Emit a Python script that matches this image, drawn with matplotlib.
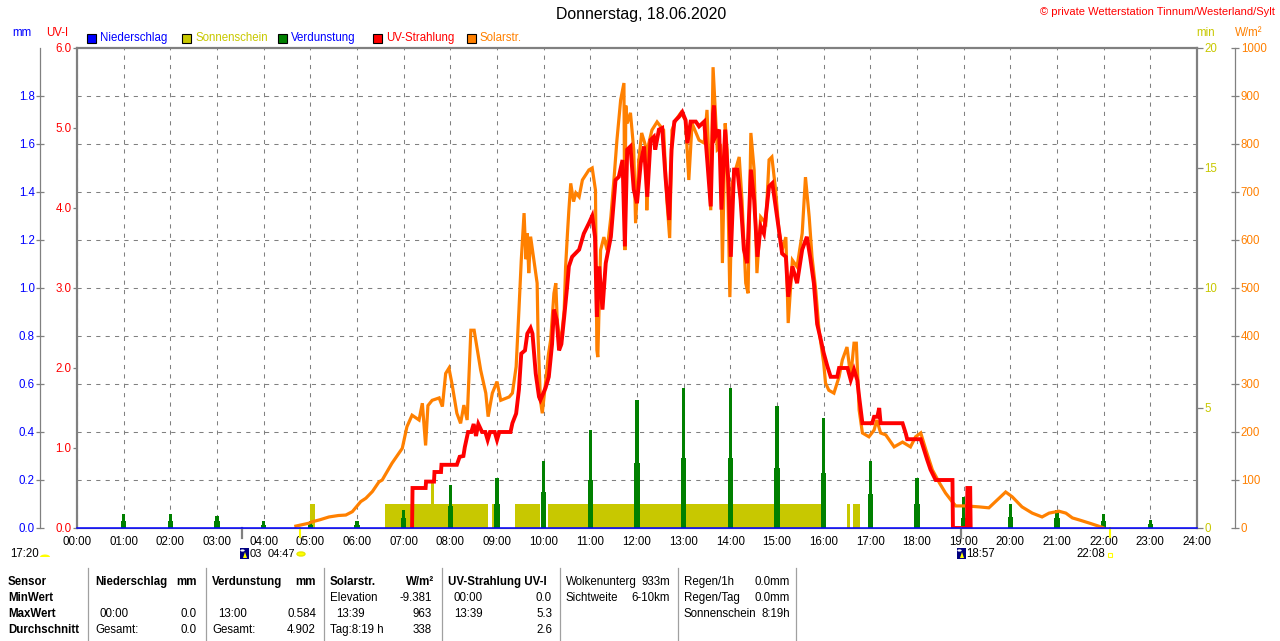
import numpy as np
import matplotlib
matplotlib.use("Agg")
import matplotlib.pyplot as plt
from matplotlib.patches import Rectangle, Circle, Wedge, Polygon
import matplotlib.transforms as mtransforms

# ---------------- data ----------------
hour_ticks = [0, 1, 2, 3, 4, 5, 6, 7, 8, 9, 10, 11, 12, 13, 14, 15, 16, 17, 18, 19, 20, 21, 22, 23, 24]
hour_labels = ["00:00", "01:00", "02:00", "03:00", "04:00", "05:00", "06:00", "07:00", "08:00",
               "09:00", "10:00", "11:00", "12:00", "13:00", "14:00", "15:00", "16:00", "17:00",
               "18:00", "19:00", "20:00", "21:00", "22:00", "23:00", "24:00"]

mm_ticks = [0.0, 0.2, 0.4, 0.6, 0.8, 1.0, 1.2, 1.4, 1.6, 1.8]
uv_ticks = [0, 1, 2, 3, 4, 5, 6]
min_ticks = [0, 5, 10, 15, 20]
sol_ticks = [0, 100, 200, 300, 400, 500, 600, 700, 800, 900, 1000]

# Solar radiation (W/m^2)
solar_hours = [4.69, 4.97, 5.04, 5.2, 5.4, 5.6, 5.76, 5.9, 6.08, 6.19, 6.33, 6.47, 6.54, 6.75, 6.97,
               7.07, 7.18, 7.33, 7.4, 7.47, 7.52, 7.61, 7.76, 7.83, 7.9, 7.97, 8.04, 8.14, 8.22,
               8.29, 8.36, 8.44, 8.51, 8.58, 8.65, 8.76, 8.81, 8.9, 9.0, 9.08, 9.26, 9.33, 9.41,
               9.47, 9.52, 9.58, 9.62, 9.65, 9.68, 9.72, 9.79, 9.86, 9.88, 9.93, 9.97, 10.04,
               10.1, 10.15, 10.22, 10.26, 10.29, 10.36, 10.44, 10.47, 10.51, 10.54, 10.58, 10.64,
               10.69, 10.76, 10.83, 10.97, 11.04, 11.11, 11.14, 11.16, 11.22, 11.29, 11.36, 11.44,
               11.51, 11.57, 11.65, 11.72, 11.74, 11.76, 11.79, 11.86, 11.93, 11.97, 12.04, 12.1,
               12.19, 12.21, 12.25, 12.32, 12.43, 12.51, 12.57, 12.64, 12.7, 12.75, 12.83, 12.94,
               13.04, 13.11, 13.18, 13.33, 13.44, 13.5, 13.58, 13.63, 13.67, 13.72, 13.79, 13.83,
               13.89, 13.93, 13.99, 14.04, 14.11, 14.19, 14.25, 14.33, 14.38, 14.44, 14.51, 14.57,
               14.65, 14.76, 14.83, 14.89, 14.97, 15.04, 15.11, 15.19, 15.24, 15.33, 15.43, 15.54,
               15.61, 15.69, 15.75, 15.83, 15.9, 16.0, 16.04, 16.11, 16.22, 16.33, 16.4, 16.5,
               16.58, 16.65, 16.7, 16.76, 16.83, 16.97, 17.08, 17.14, 17.22, 17.33, 17.51, 17.69,
               17.86, 17.97, 18.08, 18.19, 18.33, 18.48, 18.61, 18.76, 18.83, 19.04, 19.33, 19.54,
               19.76, 19.9, 20.04, 20.25, 20.47, 20.68, 20.83, 21.04, 21.19, 21.33, 21.47, 21.7,
               21.95, 22.0]
solar_wm2 = [4, 10, 13, 17, 23, 26, 27, 34, 55, 62, 76, 96, 100, 135, 166,
             211, 235, 225, 260, 172, 255, 266, 271, 253, 322, 333, 298, 239, 218,
             256, 225, 412, 412, 371, 329, 281, 232, 281, 305, 266, 273, 281, 336,
             454, 558, 656, 560, 614, 531, 607, 558, 510, 400, 266, 239, 302,
             360, 392, 489, 510, 433, 377, 454, 544, 614, 662, 718, 680,
             698, 690, 725, 746, 750, 704, 371, 356, 579, 606, 579, 648,
             731, 808, 892, 927, 579, 880, 843, 865, 788, 635, 767, 823,
             794, 662, 800, 829, 846, 836, 829, 683, 604, 829, 850, 865,
             850, 725, 843, 808, 802, 871, 662, 960, 885, 788, 794, 552,
             843, 788, 481, 718, 746, 773, 683, 510, 489, 823, 746, 531,
             648, 635, 767, 773, 704, 621, 579, 606, 427, 558, 544, 614,
             731, 648, 565, 496, 412, 344, 302, 287, 281, 315, 350, 377,
             315, 385, 385, 246, 198, 190, 204, 225, 198, 194, 169, 179,
             169, 190, 198, 163, 121, 94, 73, 54, 46, 46, 44, 42,
             62, 75, 65, 44, 31, 23, 31, 35, 31, 21, 17, 10,
             2, 0]

# UV index
uv_hours = [7.18, 7.19, 7.47, 7.48, 7.65, 7.66, 7.8, 7.81, 8.14, 8.2, 8.28, 8.31, 8.38, 8.45, 8.5,
            8.55, 8.6, 8.68, 8.75, 8.8, 8.85, 8.95, 9.0, 9.05, 9.29, 9.33, 9.41, 9.47, 9.52, 9.6,
            9.65, 9.72, 9.76, 9.83, 9.9, 9.93, 10.04, 10.11, 10.18, 10.22, 10.28, 10.33, 10.38,
            10.44, 10.5, 10.54, 10.61, 10.76, 10.86, 10.97, 11.04, 11.1, 11.14, 11.19, 11.26,
            11.33, 11.44, 11.54, 11.61, 11.69, 11.74, 11.79, 11.86, 11.93, 12.0, 12.08, 12.15,
            12.22, 12.29, 12.36, 12.39, 12.47, 12.54, 12.61, 12.69, 12.74, 12.8, 12.9, 12.97,
            13.04, 13.08, 13.15, 13.26, 13.33, 13.44, 13.51, 13.58, 13.63, 13.65, 13.68, 13.76,
            13.81, 13.89, 13.96, 14.01, 14.08, 14.15, 14.22, 14.29, 14.36, 14.44, 14.51, 14.58,
            14.65, 14.72, 14.83, 14.9, 14.97, 15.04, 15.11, 15.19, 15.24, 15.33, 15.43, 15.54,
            15.64, 15.71, 15.79, 15.86, 15.94, 16.0, 16.08, 16.15, 16.29, 16.33, 16.51, 16.58,
            16.65, 16.72, 16.76, 16.83, 17.04, 17.08, 17.15, 17.19, 17.22, 17.69, 17.76, 17.79,
            18.08, 18.15, 18.22, 18.29, 18.4, 18.76, 18.77, 19.07, 19.08, 19.14, 19.15]
uv_index = [0.0, 0.5, 0.5, 0.58, 0.58, 0.7, 0.7, 0.79, 0.79, 0.89, 0.9, 1.01, 1.2, 1.2, 1.3,
            1.15, 1.3, 1.2, 1.2, 1.1, 1.2, 1.2, 1.1, 1.2, 1.2, 1.31, 1.43, 1.73, 2.18, 2.22,
            2.43, 2.5, 2.43, 1.93, 1.64, 1.6, 1.75, 1.89, 2.3, 2.73, 2.6, 2.22, 2.3,
            2.64, 3.0, 3.27, 3.39, 3.48, 3.68, 3.81, 3.9, 3.64, 2.64, 3.27, 2.73,
            3.31, 3.64, 4.35, 4.39, 4.6, 3.52, 4.73, 4.77, 4.23, 4.06, 4.56, 4.77,
            4.14, 4.85, 4.89, 4.73, 4.98, 5.0, 4.39, 3.85, 4.73, 5.08, 5.14, 5.2,
            5.1, 4.81, 5.08, 5.08, 5.02, 5.08, 4.56, 4.02, 5.18, 5.28, 4.89, 4.98,
            3.98, 4.98, 4.31, 3.39, 4.48, 4.48, 4.1, 3.48, 3.31, 4.48, 4.1, 3.39,
            3.77, 3.68, 4.27, 4.31, 4.02, 3.73, 3.43, 3.39, 2.89, 3.27, 3.06, 3.48,
            3.64, 3.39, 3.06, 2.55, 2.35, 2.19, 2.02, 1.89, 1.89, 2.0, 2.0, 1.85,
            1.98, 1.85, 1.64, 1.31, 1.31, 1.39, 1.39, 1.5, 1.31, 1.31, 1.18, 1.11,
            1.11, 0.98, 0.85, 0.73, 0.6, 0.6, 0.0, 0.0, 0.5, 0.5, 0.0]

# Evaporation (mm) per hour: main and lower part
evap_hours = [1, 2, 3, 4, 5, 6, 7, 8, 9, 10, 11, 12, 13, 14, 15, 16, 17, 18, 19, 20, 21, 22, 23]
evap_main = [0.058, 0.058, 0.05, 0.03, 0.03, 0.03, 0.075, 0.18, 0.21, 0.28, 0.41, 0.533, 0.584,
             0.584, 0.51, 0.46, 0.28, 0.21, 0.13, 0.10, 0.075, 0.058, 0.033]
evap_low = [0.03, 0.03, 0.03, 0.013, 0.013, 0.013, 0.04, 0.09, 0.10, 0.15, 0.20, 0.27, 0.29,
            0.29, 0.25, 0.23, 0.14, 0.10, 0.04, 0.046, 0.04, 0.03, 0.015]

# Sunshine (min)
sun_start = [4.99, 6.61, 7.58, 8.89, 9.39, 10.10, 16.49, 16.63]
sun_end = [5.11, 8.81, 7.66, 8.97, 9.92, 15.95, 16.56, 16.77]
sun_min = [1, 1, 2, 1, 1, 1, 1, 1]

# Rain (mm)
rain_hours = [0, 24]
rain_mm = [0.0, 0.0]

# Moon / sun events (hours)
moon_marks = [3.53, 18.95]
sun_marks = [4.78, 22.13]

# ---------------- styling ----------------
plt.rcParams['font.family'] = ['Liberation Sans', 'DejaVu Sans']
C_BLUE = '#0000FF'
C_YEL = '#C8C800'
C_GREEN = '#008000'
C_RED = '#FF0000'
C_ORANGE = '#FF8000'
C_GRAY = '#808080'
FS = 8.3

W, H = 1280, 641
fig = plt.figure(figsize=(12.8, 6.41), dpi=100)
fig.patch.set_facecolor('white')


def fx(x):
    return x / W


def fy(y):
    return 1 - y / H


L, R, T, B = 77, 1197, 48, 528
rect = [fx(L), fy(B), (R - L) / W, (B - T) / H]

axg = fig.add_axes(rect, zorder=0)
ax_min = fig.add_axes(rect, zorder=1)
ax_ev = fig.add_axes(rect, zorder=2)
ax_sol = fig.add_axes(rect, zorder=3)
ax_uv = fig.add_axes(rect, zorder=4)

for a in (axg, ax_min, ax_ev, ax_sol, ax_uv):
    a.set_xlim(0, 24)
    for s in a.spines.values():
        s.set_visible(False)
    a.tick_params(left=False, right=False, top=False, bottom=False,
                  labelleft=False, labelright=False, labelbottom=False, labeltop=False)
    if a is not axg:
        a.patch.set_visible(False)

# grid + mm axis + hour labels
axg.set_ylim(0, 2.0)
axg.set_yticks(mm_ticks)
axg.set_yticklabels([f"{v:.1f}" for v in mm_ticks])
axg.set_xticks(hour_ticks)
axg.set_xticklabels(hour_labels)
axg.spines['left'].set_visible(True)
axg.spines['left'].set_position(('outward', 26.3))
axg.spines['left'].set_color(C_GRAY)
axg.spines['left'].set_linewidth(0.9)
axg.tick_params(axis='y', left=True, labelleft=True, direction='inout', length=5.8,
                width=0.9, color=C_GRAY, labelcolor=C_BLUE, labelsize=FS, pad=1.2)
axg.tick_params(axis='x', bottom=True, labelbottom=True, length=0, pad=6, labelsize=FS,
                labelcolor='black')
axg.grid(True, color=C_GRAY, linewidth=0.75, linestyle=(0, (4, 5)))

# sunshine bars
ax_min.set_ylim(0, 20)
ax_min.bar(sun_start, sun_min, width=np.array(sun_end) - np.array(sun_start), align='edge',
           color=C_YEL, edgecolor='none')
ax_min.set_yticks(min_ticks)
ax_min.set_yticklabels([str(v) for v in min_ticks])
ax_min.spines['right'].set_visible(True)
ax_min.spines['right'].set_color(C_GRAY)
ax_min.spines['right'].set_linewidth(1.6)
ax_min.tick_params(axis='y', right=True, labelright=True, direction='out', length=4.3,
                   width=0.9, color=C_GRAY, labelcolor=C_YEL, labelsize=FS, pad=1.0)

# evaporation bars
ax_ev.set_ylim(0, 2.0)
ax_ev.bar(evap_hours, evap_low, width=0.11, color=C_GREEN, edgecolor='none')
ax_ev.bar(evap_hours, evap_main, width=0.07, color=C_GREEN, edgecolor='none')

# solar
ax_sol.set_ylim(0, 1000)
ax_sol.plot(solar_hours, solar_wm2, color=C_ORANGE, linewidth=2.3, solid_joinstyle='miter')
ax_sol.set_yticks(sol_ticks)
ax_sol.set_yticklabels([str(v) for v in sol_ticks])
ax_sol.spines['right'].set_visible(True)
ax_sol.spines['right'].set_position(('outward', 27.4))
ax_sol.spines['right'].set_color(C_GRAY)
ax_sol.spines['right'].set_linewidth(0.9)
ax_sol.tick_params(axis='y', right=True, labelright=True, direction='inout', length=6.2,
                   width=0.9, color=C_GRAY, labelcolor=C_ORANGE, labelsize=FS, pad=1.0)

# UV + frame + rain baseline
ax_uv.set_ylim(0, 6)
ax_uv.plot(uv_hours, uv_index, color=C_RED, linewidth=2.8, solid_joinstyle='miter')
ax_uv.plot(rain_hours, [v * 3 for v in rain_mm], color=C_BLUE, linewidth=1.1, zorder=10,
           clip_on=False)
ax_uv.set_yticks(uv_ticks)
ax_uv.set_yticklabels([f"{v:.1f}" for v in uv_ticks])
for side in ('left', 'top'):
    ax_uv.spines[side].set_visible(True)
    ax_uv.spines[side].set_color(C_GRAY)
    ax_uv.spines[side].set_linewidth(1.6)
ax_uv.spines['bottom'].set_visible(True)
ax_uv.spines['bottom'].set_color(C_GRAY)
ax_uv.spines['bottom'].set_linewidth(0.9)
ax_uv.tick_params(axis='y', left=True, labelleft=True, direction='out', length=2.9,
                  width=0.9, color=C_GRAY, labelcolor=C_RED, labelsize=FS, pad=1.0)

# event marks below axis
trans = mtransforms.blended_transform_factory(ax_uv.transData, ax_uv.transAxes)
for h in moon_marks:
    ax_uv.plot([h, h], [0, -10 / 480], color=C_GRAY, linewidth=1.6, transform=trans,
               clip_on=False)
for h in sun_marks:
    ax_uv.plot([h, h], [0, -9 / 480], color='#FFFF00', linewidth=1.5, transform=trans,
               clip_on=False)

# ---------------- texts ----------------
fig.text(fx(641), fy(15), "Donnerstag, 18.06.2020", ha='center', va='center', fontsize=11.4,
         color='black')
fig.text(fx(1275), fy(12), "\u00a9 private Wetterstation Tinnum/Westerland/Sylt", ha='right',
         va='center', fontsize=8, color=C_RED)

fig.text(fx(22), fy(33), "mm", ha='center', va='center', fontsize=FS, color=C_BLUE)
fig.text(fx(57), fy(33), "UV-I", ha='center', va='center', fontsize=FS, color=C_RED)
fig.text(fx(1206), fy(33), "min", ha='center', va='center', fontsize=FS, color=C_YEL)
fig.text(fx(1249), fy(33), "W/m\u00b2", ha='center', va='center', fontsize=FS, color=C_ORANGE)

legend_items = [("Niederschlag", C_BLUE, C_BLUE, 87),
                ("Sonnenschein", C_YEL, C_YEL, 182),
                ("Verdunstung", C_GREEN, C_BLUE, 278),
                ("UV-Strahlung", C_RED, C_RED, 373),
                ("Solarstr.", C_ORANGE, C_ORANGE, 467)]
for label, sq, tc, x0 in legend_items:
    fig.patches.append(Rectangle((fx(x0), fy(43)), 9 / W, 9 / H, transform=fig.transFigure,
                                 facecolor=sq, edgecolor='black', linewidth=0.8))
    fig.text(fx(x0 + 13), fy(38), label, ha='left', va='center', fontsize=FS, color=tc)

# sun / moon row
ROW = 554
fig.text(fx(10), fy(ROW), "17:20", ha='left', va='center', fontsize=FS)
fig.patches.append(Wedge((fx(45), fy(557)), 5 / W, 0, 180, transform=fig.transFigure,
                         facecolor='#FFFF00', edgecolor='none'))


def moon_icon(x0, y0):
    fig.patches.append(Rectangle((fx(x0), fy(y0 + 11)), 9 / W, 11 / H,
                                 transform=fig.transFigure, facecolor='#000080',
                                 edgecolor='none'))
    fig.patches.append(Circle((fx(x0 + 2.5), fy(y0 + 2.5)), 2.2 / W, transform=fig.transFigure,
                              facecolor='white', edgecolor='none'))
    fig.patches.append(Polygon([(fx(x0 + 3), fy(y0 + 10)), (fx(x0 + 7), fy(y0 + 10)),
                                (fx(x0 + 5), fy(y0 + 4))], closed=True,
                               transform=fig.transFigure, facecolor='#FFFF00',
                               edgecolor='none'))


moon_icon(240, 548)
fig.text(fx(250), fy(ROW), "03", ha='left', va='center', fontsize=FS - 0.3)
fig.text(fx(268), fy(ROW), "04:47", ha='left', va='center', fontsize=FS - 0.3)
fig.patches.append(Circle((fx(301), fy(ROW)), 4 / W, transform=fig.transFigure,
                          facecolor='#FFFF00', edgecolor='#E8E800'))
moon_icon(957, 548)
fig.text(fx(966), fy(ROW), "18:57", ha='left', va='center', fontsize=FS)
fig.text(fx(1076), fy(ROW), "22:08", ha='left', va='center', fontsize=FS)
fig.patches.append(Rectangle((fx(1108), fy(557)), 4 / W, 4 / H, transform=fig.transFigure,
                             facecolor='none', edgecolor='#FFFF00', linewidth=0.8))

# ---------------- table ----------------
rows_y = [582, 598, 614, 630]
for xs in [88, 206, 324, 442, 560, 678, 796]:
    fig.add_artist(plt.Line2D([fx(xs), fx(xs)], [fy(568), fy(641)], color='#A0A0A0',
                              linewidth=0.9, transform=fig.transFigure))

bold_left = [("Sensor", 8, 0), ("MinWert", 8, 1), ("MaxWert", 8, 2), ("Durchschnitt", 8, 3),
             ("Niederschlag", 95, 0), ("Verdunstung", 212, 0), ("Solarstr.", 330, 0),
             ("UV-Strahlung UV-I", 448, 0)]
for t, x, r in bold_left:
    fig.text(fx(x), fy(rows_y[r]), t, ha='left', va='center', fontsize=FS, fontweight='bold')
bold_right = [("mm", 197, 0), ("mm", 316, 0), ("W/m\u00b2", 434, 0)]
for t, x, r in bold_right:
    fig.text(fx(x), fy(rows_y[r]), t, ha='right', va='center', fontsize=FS, fontweight='bold')

plain_left = [("00:00", 100, 2), ("Gesamt:", 95, 3),
              ("13:00", 218, 2), ("Gesamt:", 212, 3),
              ("Elevation", 330, 1), ("13:39", 336, 2), ("Tag:8:19 h", 330, 3),
              ("00:00", 454, 1), ("13:39", 454, 2),
              ("Wolkenunterg", 566, 0), ("Sichtweite", 566, 1),
              ("Regen/1h", 684, 0), ("Regen/Tag", 684, 1), ("Sonnenschein", 684, 2)]
for t, x, r in plain_left:
    fig.text(fx(x), fy(rows_y[r]), t, ha='left', va='center', fontsize=FS)
plain_right = [("0.0", 197, 2), ("0.0", 197, 3),
               ("0.584", 316, 2), ("4.902", 316, 3),
               ("-9.381", 432, 1), ("963", 432, 2), ("338", 432, 3),
               ("0.0", 552, 1), ("5.3", 552, 2), ("2.6", 552, 3),
               ("933m", 670, 0), ("6-10km", 670, 1),
               ("0.0mm", 790, 0), ("0.0mm", 790, 1), ("8:19h", 790, 2)]
for t, x, r in plain_right:
    fig.text(fx(x), fy(rows_y[r]), t, ha='right', va='center', fontsize=FS)

fig.savefig("out.png", dpi=100)
